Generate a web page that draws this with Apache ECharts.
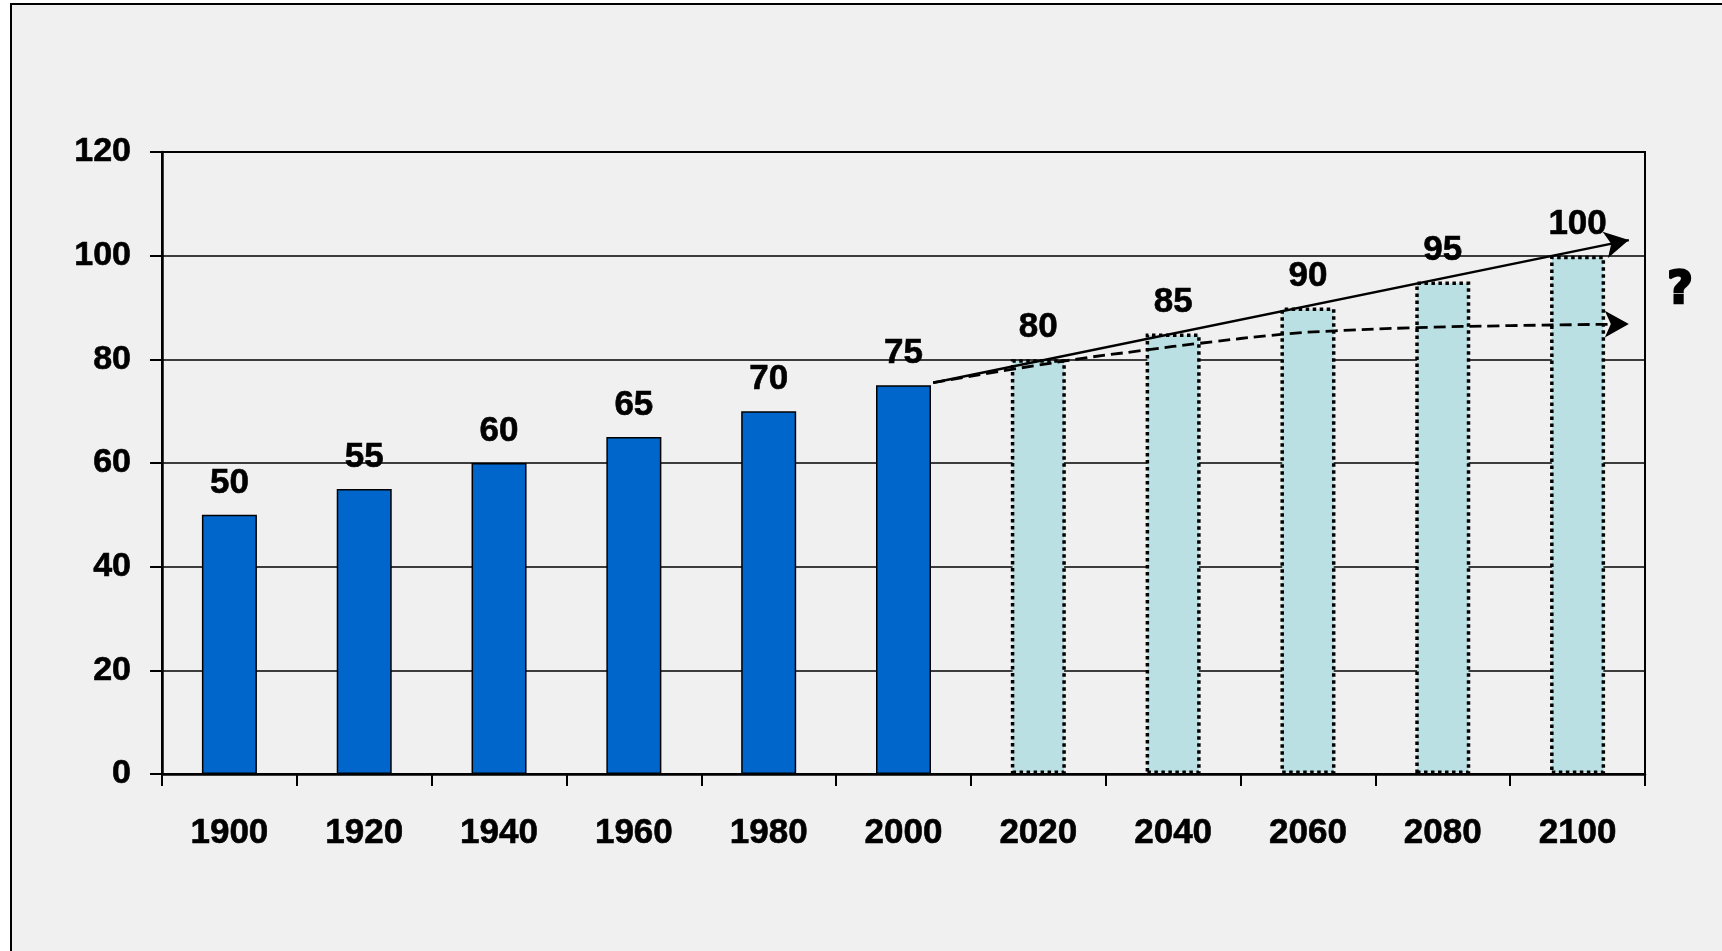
<!DOCTYPE html>
<html>
<head>
<meta charset="utf-8">
<style>
  html, body { margin: 0; padding: 0; background: #ffffff; }
  #chart { width: 1722px; height: 951px; }
</style>
<script src="https://cdn.jsdelivr.net/npm/echarts@6/dist/echarts.min.js"></script>
</head>
<body>
<div id="chart"></div>
<script>
// Years along the horizontal axis
const years = ['1900', '1920', '1940', '1960', '1980', '2000', '2020', '2040', '2060', '2080', '2100'];
// Recorded values (1900-2000) and projected values (2020-2100)
const recorded = [50, 55, 60, 65, 70, 75, null, null, null, null, null];
const projected = [null, null, null, null, null, null, 80, 85, 90, 95, 100];
// Value axis ticks
const yTicks = [0, 20, 40, 60, 80, 100, 120];

// Trend arrows, as [category position, value]; position 0 is the 1900 column
const linearTrend = [[5.22, 75.5], [10.38, 103.0]];
const levellingTrend = [[5.22, 75.5], [6.2, 79.7], [6.8, 81.8], [7.2, 83.1], [7.8, 84.8],
  [8.2, 85.5], [8.8, 86.1], [9.5, 86.5], [10.38, 86.8]];

const FONT = "'Liberation Sans', Arial, sans-serif";

const chart = echarts.init(document.getElementById('chart'), null, { renderer: 'canvas' });

const labelStyle = {
  show: true,
  position: 'top',
  distance: 14,
  color: '#000',
  fontFamily: FONT,
  fontWeight: 'bold',
  fontSize: 35,
  textBorderColor: '#000',
  textBorderWidth: 0.6
};

const levellingData = levellingTrend.map((p, i) => {
  const last = i === levellingTrend.length - 1;
  return {
    value: p,
    symbol: last ? 'arrow' : 'none',
    symbolSize: [20, 24],
    symbolRotate: -90
  };
});

chart.setOption({
  animation: false,
  backgroundColor: '#ffffff',
  graphic: [
    {
      type: 'rect',
      z: -10,
      silent: true,
      shape: { x: 11, y: 4, width: 2000, height: 2000 },
      style: { fill: '#f0f0f0', stroke: '#000', lineWidth: 2 }
    },
    {
      type: 'text',
      left: 1666,
      top: 268,
      silent: true,
      style: {
        text: '?',
        fontFamily: "'DejaVu Sans', Arial, sans-serif",
        fontWeight: 'bold',
        fontSize: 44,
        fill: '#000',
        stroke: '#000',
        lineWidth: 2.5
      }
    }
  ],
  grid: {
    left: 162, right: 77, top: 152, bottom: 177,
    show: true,
    borderColor: '#000',
    borderWidth: 2,
    backgroundColor: 'transparent'
  },
  xAxis: [
    {
      type: 'category',
      data: years,
      boundaryGap: true,
      axisLine: { show: true, lineStyle: { color: '#000', width: 2.5 } },
      axisTick: { show: true, length: 12, lineStyle: { color: '#000', width: 2 } },
      axisLabel: {
        color: '#000', fontFamily: FONT, fontWeight: 'bold', fontSize: 35, margin: 42,
        textBorderColor: '#000', textBorderWidth: 0.6
      },
      splitLine: { show: false }
    },
    {
      type: 'value',
      min: -0.5,
      max: 10.5,
      show: false
    }
  ],
  yAxis: {
    type: 'value',
    min: yTicks[0],
    max: yTicks[yTicks.length - 1],
    interval: yTicks[1] - yTicks[0],
    axisLine: { show: true, onZero: false, lineStyle: { color: '#000', width: 2.5 } },
    axisTick: { show: true, length: 12, lineStyle: { color: '#000', width: 2 } },
    axisLabel: {
      color: '#000', fontFamily: FONT, fontWeight: 'bold', fontSize: 34, margin: 31,
      padding: [4, 0, 0, 0],
      textBorderColor: '#000', textBorderWidth: 0.6
    },
    splitLine: { show: true, lineStyle: { color: '#000', width: 1.5 } }
  },
  series: [
    {
      name: 'recorded',
      type: 'bar',
      data: recorded,
      barWidth: 55,
      barGap: '-100%',
      itemStyle: { color: '#0066cc', borderColor: '#000', borderWidth: 1.5 },
      label: labelStyle,
      z: 2
    },
    {
      name: 'projected',
      type: 'bar',
      data: projected,
      barWidth: 55,
      barGap: '-100%',
      itemStyle: { color: '#bbe0e3', borderColor: '#000', borderWidth: 3.5, borderType: [3.5, 3.5] },
      label: labelStyle,
      z: 2
    },
    {
      name: 'linear trend',
      type: 'line',
      xAxisIndex: 1,
      data: [],
      z: 5,
      markLine: {
        silent: true,
        symbol: ['none', 'arrow'],
        symbolSize: [20, 24],
        label: { show: false },
        lineStyle: { color: '#000', width: 2.5, type: 'solid' },
        data: [[{ coord: linearTrend[0] }, { coord: linearTrend[1] }]]
      }
    },
    {
      name: 'levelling trend',
      type: 'line',
      xAxisIndex: 1,
      smooth: true,
      showSymbol: true,
      itemStyle: { color: '#000' },
      lineStyle: { color: '#000', width: 2.8, type: [12, 6] },
      data: levellingData,
      z: 5
    }
  ]
});
</script>
</body>
</html>
